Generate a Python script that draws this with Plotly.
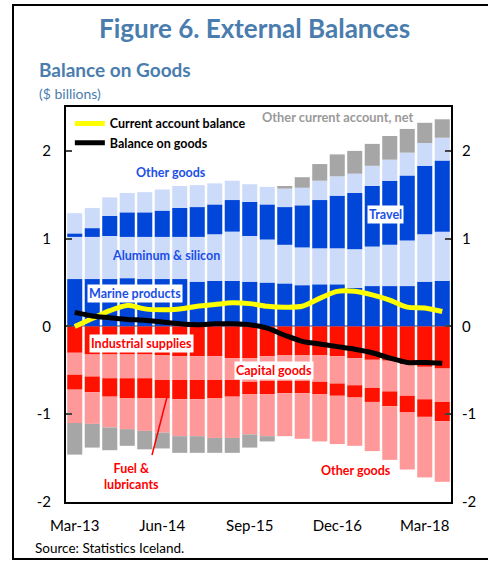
import plotly.graph_objects as go

quarters = ["Mar-13", "Jun-13", "Sep-13", "Dec-13", "Mar-14", "Jun-14", "Sep-14", "Dec-14",
            "Mar-15", "Jun-15", "Sep-15", "Dec-15", "Mar-16", "Jun-16", "Sep-16", "Dec-16",
            "Mar-17", "Jun-17", "Sep-17", "Dec-17", "Mar-18", "Jun-18"]
tick_labels = ["Mar-13", "Jun-14", "Sep-15", "Dec-16", "Mar-18"]

# Exports / credits (positive)
marine = [0.54, 0.54, 0.54, 0.55, 0.54, 0.54, 0.54, 0.51, 0.52, 0.52, 0.51, 0.50,
          0.49, 0.47, 0.48, 0.48, 0.44, 0.46, 0.46, 0.46, 0.51, 0.52]
aluminum = [0.48, 0.48, 0.49, 0.47, 0.48, 0.48, 0.48, 0.51, 0.53, 0.56, 0.52, 0.49,
            0.44, 0.43, 0.41, 0.41, 0.44, 0.45, 0.47, 0.52, 0.54, 0.56]
travel = [0.04, 0.10, 0.23, 0.28, 0.28, 0.30, 0.33, 0.34, 0.34, 0.36, 0.39, 0.40,
          0.43, 0.48, 0.55, 0.60, 0.64, 0.69, 0.73, 0.74, 0.78, 0.81]
other_goods_exp = [0.23, 0.23, 0.21, 0.22, 0.23, 0.24, 0.25, 0.25, 0.24, 0.22, 0.20, 0.20,
                   0.21, 0.20, 0.22, 0.22, 0.22, 0.23, 0.24, 0.26, 0.26, 0.26]
# Imports / debits (negative)
industrial = [-0.30, -0.32, -0.32, -0.32, -0.32, -0.33, -0.34, -0.34, -0.34, -0.36, -0.36, -0.34,
              -0.33, -0.33, -0.33, -0.34, -0.36, -0.38, -0.39, -0.43, -0.46, -0.48]
capital = [-0.25, -0.25, -0.27, -0.27, -0.27, -0.28, -0.27, -0.27, -0.27, -0.25, -0.27, -0.28,
           -0.29, -0.29, -0.30, -0.31, -0.31, -0.32, -0.35, -0.36, -0.37, -0.38]
fuel = [-0.17, -0.18, -0.21, -0.23, -0.23, -0.21, -0.22, -0.22, -0.21, -0.19, -0.14, -0.15,
        -0.14, -0.14, -0.14, -0.14, -0.14, -0.16, -0.17, -0.19, -0.20, -0.22]
other_goods_imp = [-0.38, -0.36, -0.35, -0.35, -0.37, -0.39, -0.42, -0.42, -0.45, -0.47, -0.46, -0.48,
                   -0.49, -0.52, -0.54, -0.55, -0.55, -0.56, -0.61, -0.65, -0.69, -0.69]
other_ca = [-0.36, -0.27, -0.26, -0.19, -0.21, -0.18, -0.19, -0.19, -0.17, -0.17, -0.15, -0.06,
            0.03, 0.12, 0.19, 0.25, 0.26, 0.25, 0.27, 0.27, 0.23, 0.21]
# Lines
current_account = [0.00, 0.09, 0.18, 0.24, 0.20, 0.19, 0.20, 0.23, 0.25, 0.27, 0.26, 0.23,
                   0.22, 0.23, 0.32, 0.40, 0.40, 0.36, 0.30, 0.22, 0.21, 0.17]
balance_goods = [0.16, 0.12, 0.10, 0.08, 0.07, 0.05, 0.03, 0.02, 0.03, 0.03, 0.02, -0.02,
                 -0.10, -0.17, -0.20, -0.23, -0.26, -0.30, -0.36, -0.41, -0.41, -0.42]

DARK_BLUE = "#0046D9"
LIGHT_BLUE = "#CCDBFA"
RED = "#FF1100"
SALMON = "#FF9999"
GRAY = "#A6A6A6"
TXT_BLUE = "#1A4FE6"
TXT_RED = "#FF0000"
HEAD = "#4A7DAE"
FONT = "Lato"

# plot area in pixels
L, R, T, B = 66, 451, 107, 502
W, H = 488, 561


def px(x):
    return (x - L) / (R - L)


def py(y):
    return (B - y) / (B - T)


fig = go.Figure()
bar_series = [
    ("Marine products", marine, DARK_BLUE),
    ("Aluminum & silicon", aluminum, LIGHT_BLUE),
    ("Travel", travel, DARK_BLUE),
    ("Other goods (exports)", other_goods_exp, LIGHT_BLUE),
    ("Industrial supplies", industrial, RED),
    ("Capital goods", capital, SALMON),
    ("Fuel & lubricants", fuel, RED),
    ("Other goods (imports)", other_goods_imp, SALMON),
    ("Other current account, net", other_ca, GRAY),
]
for name, vals, col in bar_series:
    fig.add_trace(go.Bar(x=quarters, y=vals, name=name, marker=dict(color=col, line_width=0),
                         showlegend=False))

fig.add_trace(go.Scatter(x=quarters, y=current_account, name="Current account balance",
                         mode="lines", line=dict(color="#FFFF00", width=5, shape="spline", smoothing=0.8)))
fig.add_trace(go.Scatter(x=quarters, y=balance_goods, name="Balance on goods",
                         mode="lines", line=dict(color="#000000", width=5, shape="spline", smoothing=0.8)))

fig.update_layout(
    width=W, height=H,
    margin=dict(l=L, r=W - R, t=T, b=H - B),
    barmode="relative", bargap=0.14,
    paper_bgcolor="white", plot_bgcolor="white",
    font=dict(family=FONT, size=14, color="#000000"),
    legend=dict(x=0.01, y=0.995, xanchor="left", yanchor="top", bgcolor="rgba(255,255,255,0)",
                font=dict(family=FONT, size=12.5, color="#000000", weight="bold"),
                itemwidth=30, tracegroupgap=0),
    xaxis=dict(range=[-0.5, 21.5], tickvals=tick_labels, ticktext=tick_labels, ticks="",
               showline=True, linecolor="black", linewidth=2, mirror=True,
               tickfont=dict(size=15), showgrid=False, ticklabelstandoff=9),
    yaxis=dict(range=[-2, 2.5], tickvals=[-2, -1, 0, 1, 2], ticktext=["-2", "-1", "0", "1", "2"],
               ticks="inside", ticklen=6, tickwidth=1.5, showline=True, linecolor="black", linewidth=2,
               mirror=True, showgrid=False, zeroline=True, zerolinecolor="#A0A0A0", zerolinewidth=1.5,
               tickfont=dict(size=15), ticklabelstandoff=10),
    yaxis2=dict(range=[-2, 2.5], overlaying="y", side="right", tickvals=[-2, -1, 0, 1, 2],
                ticktext=["-2", "-1", "0", "1", "2"], ticks="inside", ticklen=6, tickwidth=1.5,
                showgrid=False, zeroline=False, tickfont=dict(size=15), ticklabelstandoff=10,
                showline=False),
)
# invisible trace to activate right axis
fig.add_trace(go.Scatter(x=[quarters[0]], y=[0], yaxis="y2", mode="markers",
                         marker=dict(opacity=0), showlegend=False, hoverinfo="skip"))

ann = []


def text(x, y, s, color, size=12.5, bold=True, bg=None, xanchor="center", family=FONT):
    ann.append(dict(x=px(x), y=py(y), xref="paper", yref="paper", text=s, showarrow=False,
                    xanchor=xanchor, yanchor="middle",
                    font=dict(family=family, size=size, color=color, weight="bold" if bold else "normal"),
                    bgcolor=bg, borderpad=1))


text(254, 28, "Figure 6. External Balances", HEAD, size=26)
text(37, 70, "Balance on Goods", HEAD, size=19, xanchor="left")
text(37, 93, "($ billions)", HEAD, size=14, bold=False, xanchor="left")
text(33, 548, "Source: Statistics Iceland.", "#000000", size=13.5, bold=False, xanchor="left")

text(337, 117, "Other current account, net", "#9A9A9A", size=12.8)
text(171, 172, "Other goods", TXT_BLUE)
text(166, 255, "Aluminum & silicon", TXT_BLUE)
text(135, 293, "Marine products", TXT_BLUE, bg="white")
text(385, 214, "Travel", TXT_BLUE, bg="white")
text(141, 343, "Industrial supplies", TXT_RED, bg="white")
text(274, 370, "Capital goods", TXT_RED, bg="white")
text(131, 476, "Fuel &<br>lubricants", TXT_RED)
text(356, 470, "Other goods", TXT_RED)

shapes = [
    dict(type="line", xref="paper", yref="paper", x0=px(152), y0=py(455), x1=px(167), y1=py(397),
         line=dict(color=TXT_RED, width=1.5)),
    dict(type="rect", xref="paper", yref="paper", x0=px(13), y0=py(559), x1=px(520), y1=py(5),
         line=dict(color="black", width=2), fillcolor="rgba(0,0,0,0)", layer="below"),
]
fig.update_layout(annotations=ann, shapes=shapes)

fig.write_html("out.html", config={"displayModeBar": False},
               post_script="document.body.style.margin='0';document.body.style.overflow='hidden';")
